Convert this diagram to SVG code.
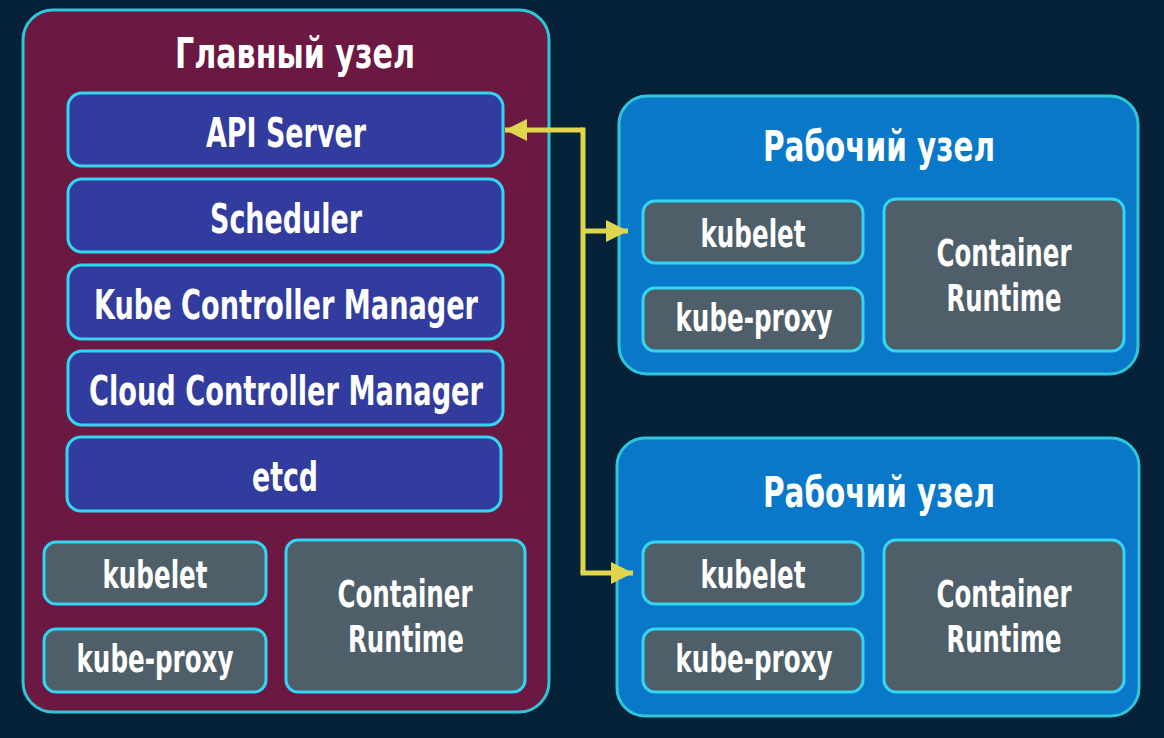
<svg xmlns="http://www.w3.org/2000/svg" width="1164" height="738" viewBox="0 0 1164 738">
<defs>
<style>
.bg{fill:#052238}
.master{fill:#6b1943;stroke:#2ec6d8;stroke-width:3}
.worker{fill:#0a78c8;stroke:#2ec6d8;stroke-width:3}
.comp{fill:#323c9e;stroke:#33d6f2;stroke-width:3}
.gray{fill:#4f5f69;stroke:#33d6f2;stroke-width:3}
text{font-family:"DejaVu Sans Condensed","DejaVu Sans",sans-serif;font-weight:bold;fill:#ffffff;text-anchor:middle;font-stretch:condensed}
.t{font-size:43px}
.l{font-size:40px}
.s{font-size:37px}
.conn{fill:none;stroke:#e0d64c;stroke-width:5}
</style>
<marker id="ah" viewBox="0 0 10 10" refX="10" refY="5" markerWidth="4.4" markerHeight="5" markerUnits="strokeWidth" orient="auto">
<path d="M0,0 L10,5 L0,10 Z" fill="#e0d64c"/>
</marker>
</defs>
<rect class="bg" x="0" y="0" width="1164" height="738"/>

<g id="master-node">
<rect class="master" x="23" y="10" width="526" height="702" rx="30"/>
<text class="t" x="295" y="68" textLength="240" lengthAdjust="spacingAndGlyphs">Главный узел</text>
</g>
<g id="api-server">
<rect class="comp" x="68" y="93" width="435" height="73" rx="14"/>
<text class="l" x="286" y="147" textLength="160" lengthAdjust="spacingAndGlyphs">API Server</text>
</g>
<g id="scheduler">
<rect class="comp" x="68" y="179" width="435" height="73" rx="14"/>
<text class="l" x="286" y="233" textLength="152" lengthAdjust="spacingAndGlyphs">Scheduler</text>
</g>
<g id="kube-controller-manager">
<rect class="comp" x="68" y="265" width="435" height="74" rx="14"/>
<text class="l" x="286" y="319" textLength="384" lengthAdjust="spacingAndGlyphs">Kube Controller Manager</text>
</g>
<g id="cloud-controller-manager">
<rect class="comp" x="68" y="351" width="435" height="74" rx="14"/>
<text class="l" x="286" y="405" textLength="394" lengthAdjust="spacingAndGlyphs">Cloud Controller Manager</text>
</g>
<g id="etcd">
<rect class="comp" x="67" y="437" width="434" height="74" rx="14"/>
<text class="l" x="285" y="491" textLength="66" lengthAdjust="spacingAndGlyphs">etcd</text>
</g>
<g id="master-kubelet">
<rect class="gray" x="44" y="542" width="222" height="62" rx="12"/>
<text class="s" x="155" y="588" textLength="105" lengthAdjust="spacingAndGlyphs">kubelet</text>
</g>
<g id="master-kube-proxy">
<rect class="gray" x="44" y="629" width="222" height="63" rx="12"/>
<text class="s" x="155" y="672" textLength="157" lengthAdjust="spacingAndGlyphs">kube-proxy</text>
</g>
<g id="master-container-runtime">
<rect class="gray" x="286" y="540" width="239" height="152" rx="12"/>
<text class="s" x="405" y="607" textLength="135" lengthAdjust="spacingAndGlyphs">Container</text>
<text class="s" x="406" y="652" textLength="116" lengthAdjust="spacingAndGlyphs">Runtime</text>
</g>

<g id="worker-node-1">
<rect class="worker" x="619" y="96" width="519" height="278" rx="28"/>
<text class="t" x="879" y="161" textLength="232" lengthAdjust="spacingAndGlyphs">Рабочий узел</text>
</g>
<g id="worker1-kubelet">
<rect class="gray" x="643" y="201" width="220" height="62" rx="12"/>
<text class="s" x="753" y="247" textLength="105" lengthAdjust="spacingAndGlyphs">kubelet</text>
</g>
<g id="worker1-kube-proxy">
<rect class="gray" x="643" y="288" width="220" height="63" rx="12"/>
<text class="s" x="754" y="331" textLength="157" lengthAdjust="spacingAndGlyphs">kube-proxy</text>
</g>
<g id="worker1-container-runtime">
<rect class="gray" x="884" y="199" width="240" height="152" rx="12"/>
<text class="s" x="1004" y="266" textLength="135" lengthAdjust="spacingAndGlyphs">Container</text>
<text class="s" x="1004" y="311" textLength="115" lengthAdjust="spacingAndGlyphs">Runtime</text>
</g>

<g id="worker-node-2">
<rect class="worker" x="617" y="438" width="522" height="278" rx="28"/>
<text class="t" x="879" y="507" textLength="232" lengthAdjust="spacingAndGlyphs">Рабочий узел</text>
</g>
<g id="worker2-kubelet">
<rect class="gray" x="643" y="542" width="220" height="62" rx="12"/>
<text class="s" x="753" y="588" textLength="105" lengthAdjust="spacingAndGlyphs">kubelet</text>
</g>
<g id="worker2-kube-proxy">
<rect class="gray" x="643" y="629" width="220" height="63" rx="12"/>
<text class="s" x="754" y="672" textLength="157" lengthAdjust="spacingAndGlyphs">kube-proxy</text>
</g>
<g id="worker2-container-runtime">
<rect class="gray" x="884" y="540" width="240" height="152" rx="12"/>
<text class="s" x="1004" y="607" textLength="135" lengthAdjust="spacingAndGlyphs">Container</text>
<text class="s" x="1004" y="652" textLength="115" lengthAdjust="spacingAndGlyphs">Runtime</text>
</g>

<g id="connectors">
<path class="conn" d="M583,130 L505,130" marker-end="url(#ah)"/>
<path class="conn" d="M583,127.5 L583,573"/>
<path class="conn" d="M583,231 L628,231" marker-end="url(#ah)"/>
<path class="conn" d="M580.5,573 L633,573" marker-end="url(#ah)"/>
</g>
</svg>
